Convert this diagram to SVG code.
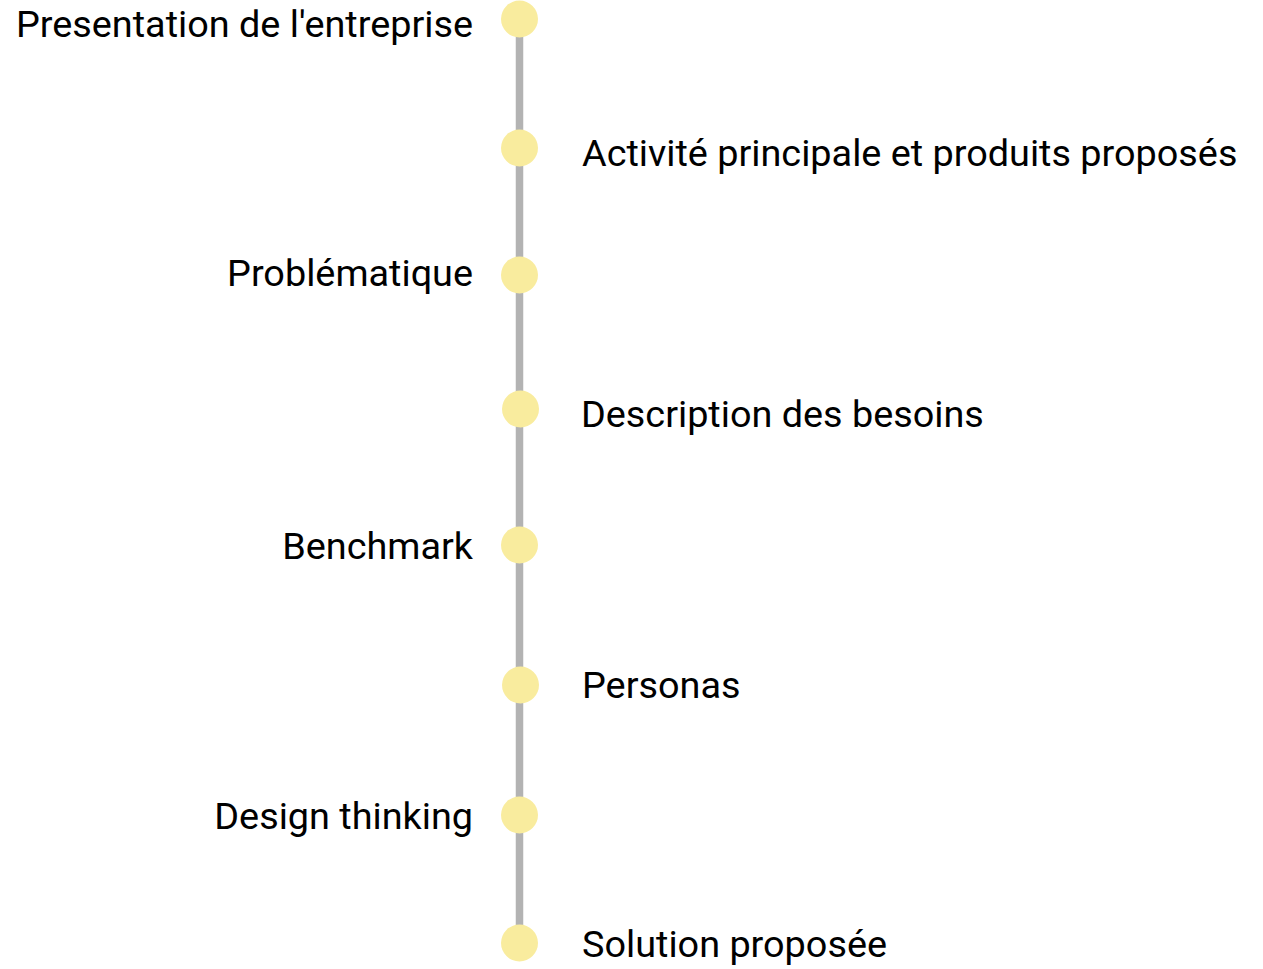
<svg xmlns="http://www.w3.org/2000/svg" width="1263" height="969" viewBox="0 0 1263 969">
  <style>
    .lbl { font-family: Roboto, "Liberation Sans", sans-serif; font-size: 37.8px; fill: #000; }
    .left { text-anchor: end; }
    .dot { fill: #f9ec9e; }
  </style>
  <rect width="1263" height="969" fill="#ffffff"/>
  <!-- vertical timeline spine -->
  <g id="connectors">
    <line x1="519.5" y1="19" x2="519.5" y2="943" stroke="#b3b3b3" stroke-width="7.5"/>
  </g>
  <!-- milestones: dot on the spine, label alternating left / right -->
  <g id="n1"><circle class="dot" cx="519.5" cy="19" r="18.5"/><text class="lbl left" x="473" y="37">Presentation de l'entreprise</text></g>
  <g id="n2"><circle class="dot" cx="519.5" cy="148" r="18.5"/><text class="lbl" x="582" y="165.5">Activité principale et produits proposés</text></g>
  <g id="n3"><circle class="dot" cx="519.5" cy="275" r="18.5"/><text class="lbl left" x="473" y="286">Problématique</text></g>
  <g id="n4"><circle class="dot" cx="520.5" cy="409" r="18.5"/><text class="lbl" x="581" y="427">Description des besoins</text></g>
  <g id="n5"><circle class="dot" cx="519.5" cy="545" r="18.5"/><text class="lbl left" x="473" y="559">Benchmark</text></g>
  <g id="n6"><circle class="dot" cx="520.5" cy="685" r="18.5"/><text class="lbl" x="582" y="698">Personas</text></g>
  <g id="n7"><circle class="dot" cx="519.5" cy="815" r="18.5"/><text class="lbl left" x="473" y="829">Design thinking</text></g>
  <g id="n8"><circle class="dot" cx="519.5" cy="943" r="18.5"/><text class="lbl" x="582" y="957">Solution proposée</text></g>
</svg>
